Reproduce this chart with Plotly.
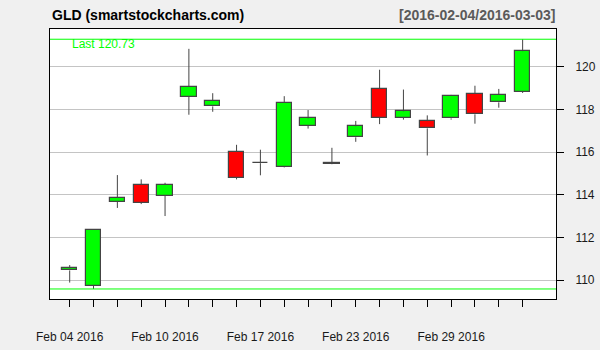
import plotly.graph_objects as go

dates = ["2016-02-04", "2016-02-05", "2016-02-08", "2016-02-09", "2016-02-10",
         "2016-02-11", "2016-02-12", "2016-02-16", "2016-02-17", "2016-02-18",
         "2016-02-19", "2016-02-22", "2016-02-23", "2016-02-24", "2016-02-25",
         "2016-02-26", "2016-02-29", "2016-03-01", "2016-03-02", "2016-03-03"]
opens = [110.45, 109.74, 113.66, 114.47, 113.95, 118.58, 118.14, 116.00, 115.48, 115.30,
         117.24, 115.49, 116.69, 118.96, 117.61, 117.45, 117.58, 118.74, 118.33, 118.82]
highs = [110.70, 112.34, 114.92, 114.72, 114.56, 120.84, 118.76, 116.34, 116.11, 118.62,
         117.97, 116.20, 117.46, 119.86, 118.93, 117.72, 118.68, 119.11, 118.96, 121.29]
lows = [109.88, 109.58, 113.38, 113.56, 113.00, 117.75, 117.89, 114.72, 114.91, 115.28,
        117.10, 115.42, 116.48, 117.31, 117.52, 115.84, 117.52, 117.33, 118.08, 118.77]
closes = [110.55, 112.34, 113.86, 113.61, 114.47, 119.05, 118.39, 114.79, 115.49, 118.30,
          117.58, 115.43, 117.21, 117.61, 117.91, 117.11, 118.63, 117.77, 118.68, 120.73]

label_idx = [0, 4, 8, 12, 16]
label_text = ["Feb 04 2016", "Feb 10 2016", "Feb 17 2016", "Feb 23 2016", "Feb 29 2016"]
y_ticks = [110, 112, 114, 116, 118, 120]

n = len(dates)
xs = list(range(n))
tops = [max(o, c) for o, c in zip(opens, closes)]
bots = [min(o, c) for o, c in zip(opens, closes)]
colors = ["#00FF00" if c >= o else "#FF0000" for o, c in zip(opens, closes)]

wx, wy = [], []
for i in xs:
    if highs[i] > tops[i]:
        wx += [i, i, None]
        wy += [tops[i], highs[i], None]
    if lows[i] < bots[i]:
        wx += [i, i, None]
        wy += [lows[i], bots[i], None]

fig = go.Figure()
fig.add_trace(go.Bar(
    x=xs, base=bots, y=[max(t - b, 0.01) for t, b in zip(tops, bots)],
    width=0.64, marker=dict(color=colors, line=dict(color="#444444", width=1.2)),
    hoverinfo="skip", showlegend=False))
fig.add_trace(go.Scatter(x=wx, y=wy, mode="lines",
                         line=dict(color="#444444", width=1),
                         hoverinfo="skip", showlegend=False))

hi_max = max(highs)
lo_min = min(lows)
for v in (hi_max, lo_min):
    fig.add_shape(type="line", xref="paper", x0=0, x1=1, yref="y", y0=v, y1=v,
                  line=dict(color="#00FF00", width=1))

ticktext = [""] * n
for i, t in zip(label_idx, label_text):
    ticktext[i] = t

font_family = "Liberation Sans, Arial, sans-serif"

fig.update_layout(
    width=600, height=350,
    margin=dict(l=50, r=44, t=29, b=51),
    paper_bgcolor="#F0F0F0", plot_bgcolor="white",
    font=dict(family=font_family, size=12, color="#1a1a1a"),
    bargap=0,
    xaxis=dict(range=[-0.826, 20.40], tickmode="array", tickvals=xs, ticktext=ticktext,
               ticks="outside", ticklen=7, tickcolor="black", tickwidth=1,
               showgrid=False, zeroline=False, showline=True, linecolor="black",
               linewidth=1, mirror=True, ticklabelstandoff=20, automargin=False,
               tickfont=dict(size=12, color="#1a1a1a")),
    yaxis=dict(range=[109.11, 121.77], side="right", tickmode="array", tickvals=y_ticks,
               ticks="outside", ticklen=7, tickcolor="black", tickwidth=1,
               showgrid=True, gridcolor="#C4C4C4", gridwidth=1, zeroline=False,
               showline=True, linecolor="black", linewidth=1, mirror=True,
               ticklabelstandoff=9, automargin=False,
               tickfont=dict(size=12, color="#1a1a1a")),
    annotations=[
        dict(text="<b>GLD (smartstockcharts.com)</b>", xref="paper", yref="paper",
             x=0, y=1 + 14 / 270, xanchor="left", yanchor="middle", showarrow=False,
             font=dict(size=14, color="black", family=font_family)),
        dict(text="<b>[%s/%s]</b>" % (dates[0], dates[-1]), xref="paper", yref="paper",
             x=1.002, y=1 + 14 / 270, xanchor="right", yanchor="middle", showarrow=False,
             font=dict(size=14, color="#5a5a5a", family=font_family)),
        dict(text="Last %.2f" % closes[-1], xref="x", yref="y", x=0.11, y=121.05,
             xanchor="left", yanchor="middle", showarrow=False, xshift=-2,
             font=dict(size=12, color="#00FF00", family=font_family)),
    ],
)

fig.write_html("out.html")
